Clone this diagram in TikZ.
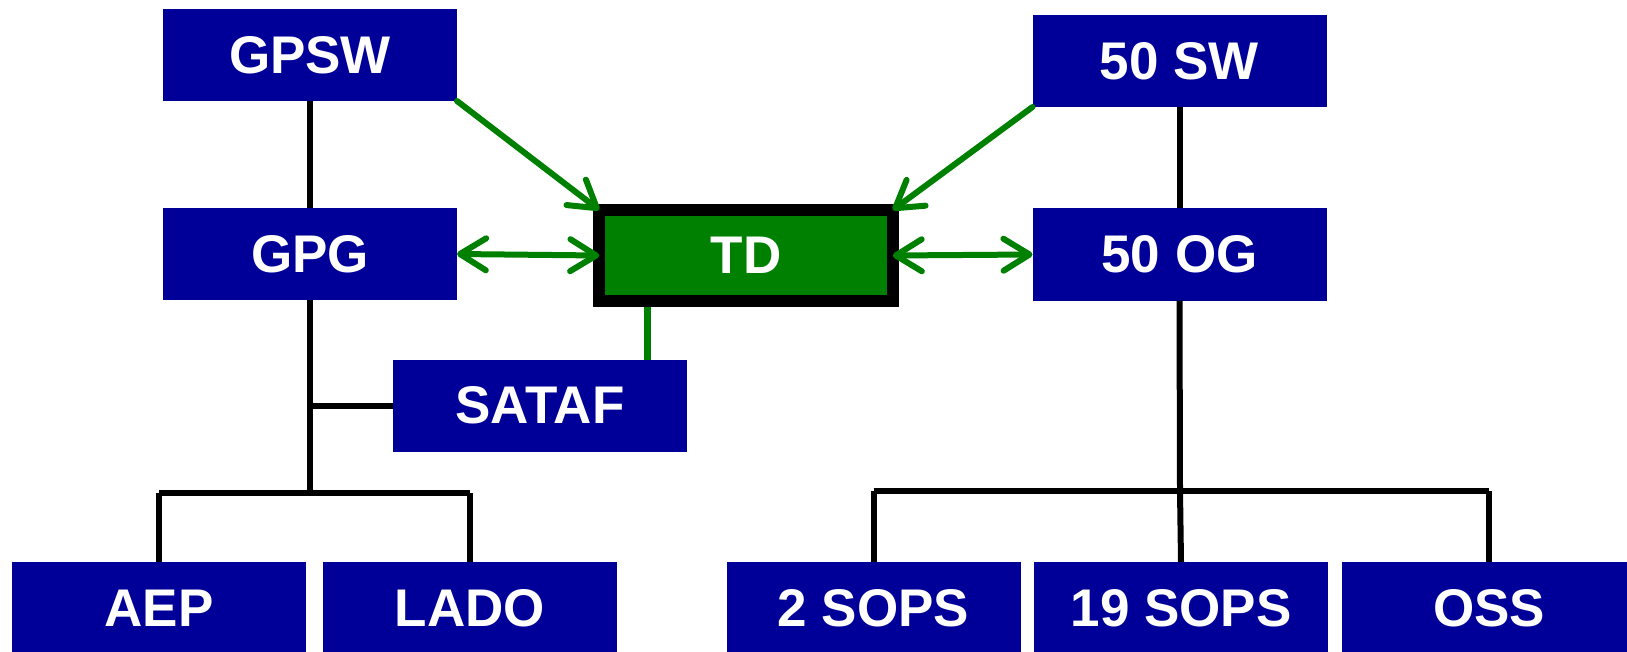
\documentclass[tikz,border=0pt]{standalone}
\usepackage{fontspec}
\setmainfont{Liberation Sans}
\usetikzlibrary{arrows.meta}
\definecolor{boxblue}{RGB}{0,0,153}
\definecolor{linkgreen}{RGB}{0,128,0}
\begin{document}
\begin{tikzpicture}[x=1pt,y=-1pt,
  unit/.style={rectangle, fill=boxblue, minimum width=294pt, minimum height=92pt,
    inner sep=0pt, outer sep=0pt, text=white, font=\fontsize{53}{60}\selectfont\bfseries},
  tdbox/.style={rectangle, fill=linkgreen, draw=black, line width=12pt,
    minimum width=293.5pt, minimum height=91pt, inner sep=0pt, outer sep=0pt,
    text=white, font=\fontsize{53}{60}\selectfont\bfseries},
  tree/.style={draw=black, line width=6pt},
  coord/.style={draw=linkgreen, line width=6pt, line cap=round},
  tip/.tip={Straight Barb[length=26pt, width=32pt, line width=6pt, round]}
]
\useasboundingbox (0,0) rectangle (1627,652);

% nodes
\node[unit] (gpsw) at (310,55) {GPSW};
\node[unit] (sw50) at (1179.5,61) {50 SW};
\node[unit] (gpg) at (310,254) {GPG};
\node[unit] (og50) at (1179.5,254.5) {50 OG};
\node[unit] (sataf) at (540,405.5) {SATAF};
\node[unit] (aep) at (159,608) {AEP};
\node[unit] (lado) at (470,608) {LADO};
\node[unit] (sops2) at (873.5,608) {2 SOPS};
\node[unit] (sops19) at (1181,608) {19 SOPS};
\node[unit] (oss) at (1489,608) {OSS};
\node[tdbox] (td) at (746,255.5) {TD};

% junction coordinates
\coordinate (lj) at (310,493);
\coordinate (ls) at (310,405.5);
\coordinate (la) at (159,493);
\coordinate (ll) at (470,493);
\coordinate (rj) at (1180,491);
\coordinate (ra) at (873.5,491);
\coordinate (rc) at (1489,491);
\coordinate (satx) at (647,0);

% left tree
\draw[tree] (gpsw.south) -- (gpg.north);
\draw[tree] (gpg.south) -- (lj);
\draw[tree] (ls) -- (sataf.west);
\draw[tree] (la) -- (ll);
\draw[tree] (la) -- (aep.north);
\draw[tree] (ll) -- (lado.north);

% right tree
\draw[tree] (sw50.south) -- (og50.north);
\draw[tree] (og50.south) -- (rj);
\draw[tree] (ra) -- (rc);
\draw[tree] (ra) -- (sops2.north);
\draw[tree] (rj) -- (sops19.north);
\draw[tree] (rc) -- (oss.north);

% green links
\draw[coord, -tip] (gpsw.south east) -- (td.north west);
\draw[coord, -tip] (sw50.south west) -- (td.north east);
\draw[coord, tip-tip] (gpg.east) -- (td.west);
\draw[coord, tip-tip] (td.east) -- (og50.west);
\draw[draw=linkgreen, line width=7pt] (td.south -| satx) ++(0,6) -- (sataf.north -| satx);
\end{tikzpicture}
\end{document}
